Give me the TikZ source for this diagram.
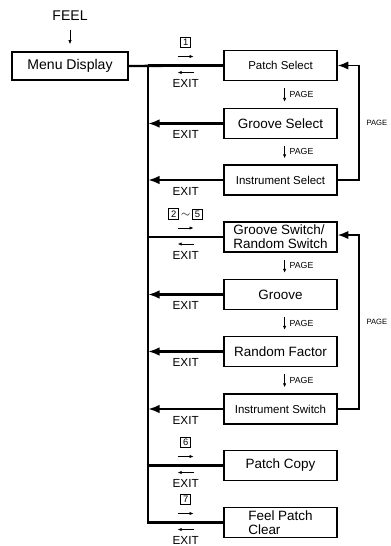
\documentclass[tikz,border=0pt]{standalone}
\usepackage{fontspec}
\setmainfont{Liberation Sans}
\usetikzlibrary{arrows.meta, calc, positioning}

\newcommand{\keynum}[1]{{\setlength{\fboxsep}{1.2pt}\setlength{\fboxrule}{0.7pt}\fbox{\makebox[5.5pt]{\fontsize{8}{8}\selectfont #1}}}}

\tikzset{
  menubox/.style={draw, line width=1.2pt, inner sep=0pt, minimum width=3.39cm, minimum height=0.9cm, align=left, font=\fontsize{11.5}{12}\selectfont},
  smallbox/.style={menubox, font=\fontsize{9.8}{11}\selectfont},
  link/.style={line width=2pt},
  exitarr/.style={line width=2pt, -{Latex[length=10pt,width=7.5pt]}},
  fbarr/.style={line width=1.4pt, -{Latex[length=9pt,width=7pt]}},
  smallarr/.style={line width=0.6pt, -{Latex[length=3.5pt,width=2.8pt]}},
  exitlbl/.style={font=\fontsize{10}{10}\selectfont, inner sep=0pt},
  pagelbl/.style={font=\fontsize{7.5}{8}\selectfont, inner sep=0pt},
}

\begin{document}
\begin{tikzpicture}[x=0.03cm, y=-0.03cm]
  \useasboundingbox (0,0) rectangle (391,546);

  \node[font=\fontsize{12}{12}\selectfont] (feel) at (70,16) {FEEL};
  \node[menubox, minimum width=3.48cm, minimum height=0.84cm, font=\fontsize{12}{12}\selectfont] (menu) at (70,66) {Menu Display};
  \draw[smallarr, shorten <=4pt, shorten >=6pt] (feel) -- (menu);

  % patch group
  \node[smallbox] (psel)   at (280.5,65.5)  {Patch Select};
  \node[menubox]  (gsel)   at (280.5,123.5) {Groove Select};
  \node[smallbox] (isel)   at (280.5,180)   {Instrument Select};
  % groove group
  \node[menubox]  (gsw)    at (280.5,237)   {Groove Switch/\\Random Switch};
  \node[menubox]  (groove) at (280.5,294.5) {Groove};
  \node[menubox]  (rfac)   at (280.5,351.5) {Random Factor};
  \node[smallbox] (isw)    at (280.5,409)   {Instrument Switch};
  % copy / clear
  \node[menubox]  (pcopy)  at (280.5,465.5) {Patch Copy};
  \node[menubox]  (fclear) at (280.5,522.5) {Feel Patch\\Clear};

  \coordinate (trunk) at (148,66);
  \draw[link] (trunk) |- (fclear.west);
  \draw[link] (menu.east) -- (psel.west);

  \foreach \b/\k in {psel/{\keynum{1}}, gsw/{\keynum{2}\,$\sim$\,\keynum{5}}, pcopy/{\keynum{6}}, fclear/{\keynum{7}}}{
    \draw[link] (\b.west -| trunk) -- coordinate (m) (\b.west);
    \node[inner sep=0pt] at ($(m)+(0,-23)$) {\k};
    \draw[smallarr] ($(m)+(-8,-9)$) -- ++(16,0);
    \draw[smallarr] ($(m)+(8,7)$) -- ++(-16,0);
    \node[exitlbl] at ($(m)+(0,18)$) {EXIT};
  }

  \foreach \b in {gsel, isel, groove, rfac, isw}
    \draw[exitarr] (\b.west) -- node[exitlbl, below=5pt] {EXIT} (\b.west -| trunk);

  \foreach \a/\b in {psel/gsel, gsel/isel, gsw/groove, groove/rfac, rfac/isw}
    \draw[smallarr, shorten <=6pt, shorten >=5pt] ([xshift=3.5pt]\a.south) -- node[pagelbl, right=4pt] {PAGE} ([xshift=3.5pt]\b.north);

  \draw[fbarr] (isel.east) -- ++(21,0) |- node[pos=0.25, pagelbl, right=6pt, font=\fontsize{6.5}{7}\selectfont] {PAGE} (psel.east);
  \draw[fbarr] (isw.east) -- ++(21,0) |- node[pos=0.25, pagelbl, right=6pt, font=\fontsize{6.5}{7}\selectfont] {PAGE} ([yshift=1.7pt]gsw.east);
\end{tikzpicture}
\end{document}
